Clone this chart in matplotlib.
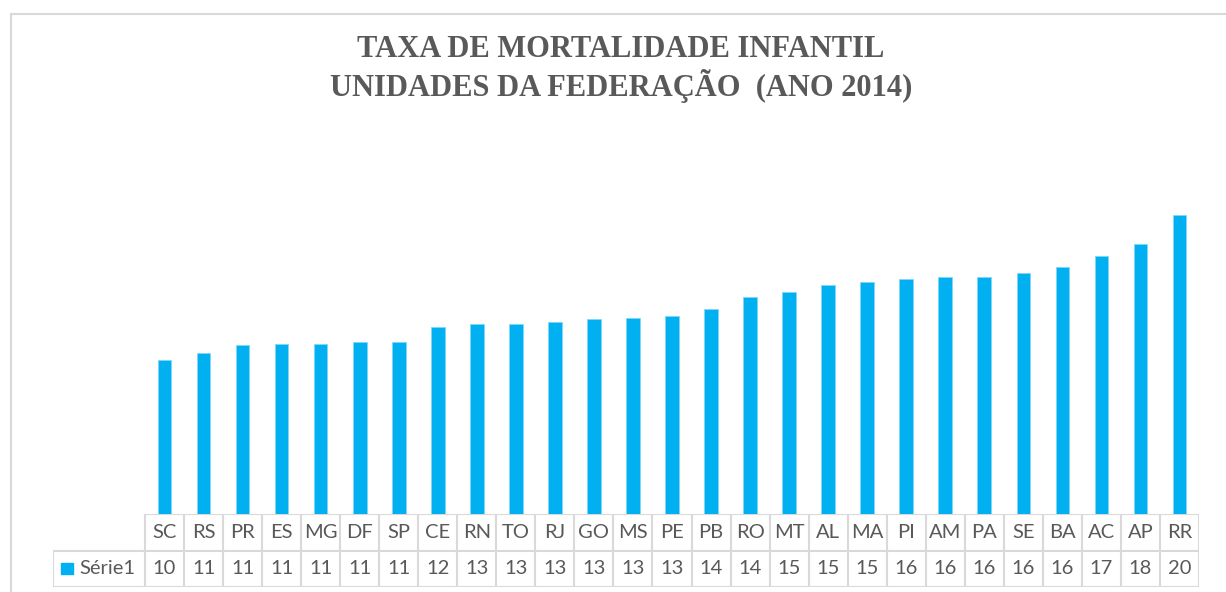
import numpy as np
import matplotlib
matplotlib.use("Agg")
import matplotlib.pyplot as plt
from matplotlib.patches import Rectangle

# dados (taxa de mortalidade infantil por UF, 2014)
ufs = ["SC", "RS", "PR", "ES", "MG", "DF", "SP", "CE", "RN", "TO", "RJ", "GO", "MS", "PE",
       "PB", "RO", "MT", "AL", "MA", "PI", "AM", "PA", "SE", "BA", "AC", "AP", "RR"]
taxas = [10.2, 10.7, 11.2, 11.3, 11.3, 11.4, 11.4, 12.4, 12.6, 12.6, 12.7, 12.9, 13.0, 13.1,
         13.6, 14.4, 14.7, 15.2, 15.4, 15.6, 15.7, 15.7, 16.0, 16.4, 17.1, 17.9, 19.8]
serie = "Série1"
titulo = "TAXA DE MORTALIDADE INFANTIL\nUNIDADES DA FEDERAÇÃO  (ANO 2014)"

azul = "#00B0F0"
cinza_txt = "#595959"
cinza_grade = "#D9D9D9"

W, H = 1226, 592
fig = plt.figure(figsize=(W / 100, H / 100), dpi=100)

# moldura do grafico
fig.add_artist(plt.Line2D([11 / W, 11 / W], [0, 1 - 14 / H], color=cinza_grade, lw=1.5))
fig.add_artist(plt.Line2D([11 / W, 1], [1 - 14 / H, 1 - 14 / H], color=cinza_grade, lw=1.5))

# titulo
fig.text(621 / W, 1 - 69 / H, titulo, ha="center", va="center", family="Liberation Serif",
         fontweight="bold", fontsize=22, color=cinza_txt, linespacing=1.2)

# area das barras
x0, x1 = 145, 1199
ytop, ybase = 137, 514
ax = fig.add_axes([x0 / W, 1 - ybase / H, (x1 - x0) / W, (ybase - ytop) / H])
x = np.arange(len(ufs))
ax.bar(x, taxas, width=0.35, color=azul, edgecolor="#7fd7f7", linewidth=0.6)
ax.set_xlim(-0.5, len(ufs) - 0.5)
ax.set_ylim(0, 25)
ax.axis("off")

# tabela de dados
leg_w = (x0 - 53) / ((x1 - x0) / len(ufs))
tb = fig.add_axes([53 / W, 1 - 587 / H, (x1 - 53) / W, (587 - ybase) / H])
tb.set_xlim(-0.5 - leg_w, len(ufs) - 0.5)
tb.set_ylim(0, 2)
tb.axis("off")
lk = dict(color=cinza_grade, lw=1.5, solid_capstyle="projecting")
tb.plot([-0.5, len(ufs) - 0.5], [2, 2], **lk)
tb.plot([-0.5 - leg_w, len(ufs) - 0.5], [1, 1], **lk)
tb.plot([-0.5 - leg_w, len(ufs) - 0.5], [0, 0], **lk)
tb.plot([-0.5 - leg_w, -0.5 - leg_w], [0, 1], **lk)
for i in range(len(ufs) + 1):
    tb.plot([i - 0.5, i - 0.5], [0, 2], **lk)
fonte = dict(family="Lato", fontsize=14.5, color=cinza_txt, ha="center", va="center")
for i, (uf, v) in enumerate(zip(ufs, taxas)):
    tb.text(i, 1.5, uf, **fonte)
    tb.text(i, 0.5, "%d" % round(v), **fonte)
tb.add_patch(Rectangle((-0.5 - leg_w + 0.2, 0.35), 0.31, 0.3, color=azul, clip_on=False))
tb.text(-0.5 - leg_w + 0.68, 0.5, serie, family="Lato", fontsize=14.5, color=cinza_txt,
        ha="left", va="center")

fig.savefig("out.png", dpi=100)
